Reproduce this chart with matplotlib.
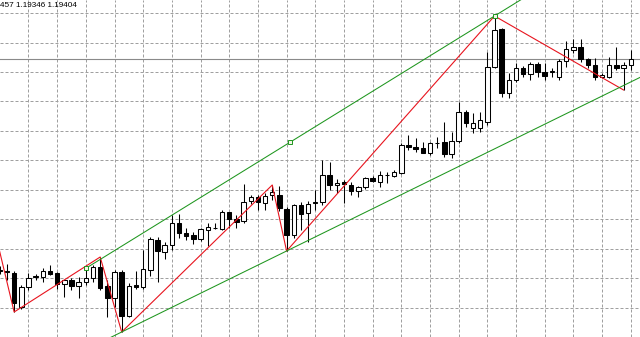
import numpy as np
import matplotlib.pyplot as plt

# EURUSD candles (open, high, low, close)
opens = [1.18349, 1.18344, 1.18334, 1.18164, 1.18264, 1.18314, 1.18314, 1.18344, 1.18334, 1.18279,
         1.18299, 1.18269, 1.18289, 1.18309, 1.18364, 1.18269, 1.18209, 1.18339, 1.18119, 1.18274,
         1.18264, 1.18349, 1.18499, 1.18439, 1.18474, 1.18584, 1.18534, 1.18524, 1.18504, 1.18549,
         1.18559, 1.18554, 1.18639, 1.18604, 1.18594, 1.18694, 1.18714, 1.18684, 1.18724, 1.18724,
         1.18654, 1.18524, 1.18674, 1.18634, 1.18684, 1.18689, 1.18824, 1.18774, 1.18789, 1.18774,
         1.18744, 1.18764, 1.18809, 1.18789, 1.18824, 1.18819, 1.18834, 1.18974, 1.18964, 1.18959,
         1.18934, 1.18984, 1.18989, 1.18929, 1.18994, 1.19139, 1.19059, 1.19059, 1.19089, 1.19364,
         1.19554, 1.19234, 1.19299, 1.19359, 1.19329, 1.19379, 1.19339, 1.19339, 1.19314, 1.19394,
         1.19449, 1.19464, 1.19404, 1.19374, 1.19314, 1.19314, 1.19374, 1.19359, 1.19374]
highs = [1.18369, 1.18379, 1.18344, 1.18274, 1.18334, 1.18329, 1.18359, 1.18374, 1.18339, 1.18299,
         1.18309, 1.18314, 1.18349, 1.18374, 1.18414, 1.18299, 1.18349, 1.18349, 1.18284, 1.18344,
         1.18449, 1.18514, 1.18514, 1.18489, 1.18624, 1.18629, 1.18559, 1.18539, 1.18559, 1.18584,
         1.18584, 1.18649, 1.18639, 1.18624, 1.18779, 1.18724, 1.18724, 1.18734, 1.18774, 1.18769,
         1.18664, 1.18679, 1.18689, 1.18694, 1.18749, 1.18899, 1.18889, 1.18804, 1.18799, 1.18789,
         1.18769, 1.18814, 1.18819, 1.18844, 1.18839, 1.18849, 1.18984, 1.19024, 1.19009, 1.18989,
         1.18989, 1.19014, 1.19089, 1.19039, 1.19189, 1.19149, 1.19134, 1.19139, 1.19439, 1.19619,
         1.19559, 1.19334, 1.19384, 1.19369, 1.19389, 1.19389, 1.19384, 1.19359, 1.19404, 1.19494,
         1.19504, 1.19504, 1.19409, 1.19409, 1.19334, 1.19414, 1.19464, 1.19389, 1.19449]
lows = [1.18329, 1.18299, 1.18139, 1.18154, 1.18249, 1.18299, 1.18289, 1.18324, 1.18254, 1.18214,
        1.18249, 1.18209, 1.18274, 1.18289, 1.18249, 1.18114, 1.18164, 1.18039, 1.18114, 1.18254,
        1.18254, 1.18319, 1.18289, 1.18404, 1.18449, 1.18509, 1.18499, 1.18479, 1.18494, 1.18469,
        1.18554, 1.18549, 1.18559, 1.18559, 1.18584, 1.18679, 1.18649, 1.18649, 1.18699, 1.18644,
        1.18444, 1.18509, 1.18549, 1.18489, 1.18649, 1.18674, 1.18749, 1.18734, 1.18684, 1.18724,
        1.18714, 1.18754, 1.18789, 1.18764, 1.18784, 1.18814, 1.18829, 1.18949, 1.18939, 1.18934,
        1.18924, 1.18959, 1.18914, 1.18909, 1.18984, 1.19064, 1.19034, 1.19039, 1.19074, 1.19359,
        1.19214, 1.19209, 1.19289, 1.19314, 1.19299, 1.19314, 1.19299, 1.19314, 1.19299, 1.19364,
        1.19434, 1.19389, 1.19359, 1.19299, 1.19309, 1.19309, 1.19349, 1.19249, 1.19349]
closes = [1.18344, 1.18339, 1.18184, 1.18264, 1.18309, 1.18319, 1.18344, 1.18329, 1.18279, 1.18299,
          1.18269, 1.18289, 1.18309, 1.18364, 1.18259, 1.18209, 1.18339, 1.18119, 1.18269, 1.18264,
          1.18354, 1.18504, 1.18444, 1.18474, 1.18584, 1.18534, 1.18519, 1.18504, 1.18554, 1.18564,
          1.18559, 1.18639, 1.18604, 1.18589, 1.18689, 1.18714, 1.18689, 1.18719, 1.18739, 1.18659,
          1.18524, 1.18674, 1.18629, 1.18679, 1.18689, 1.18824, 1.18774, 1.18784, 1.18779, 1.18744,
          1.18764, 1.18809, 1.18794, 1.18824, 1.18824, 1.18839, 1.18974, 1.18964, 1.18954, 1.18934,
          1.18984, 1.18984, 1.18929, 1.18994, 1.19139, 1.19084, 1.19084, 1.19099, 1.19364, 1.19549,
          1.19234, 1.19299, 1.19359, 1.19329, 1.19379, 1.19339, 1.19319, 1.19344, 1.19394, 1.19454,
          1.19464, 1.19404, 1.19374, 1.19314, 1.19324, 1.19374, 1.19359, 1.19374, 1.19404]

# ZigZag indicator vertices (bar index, price)
zigzag_bars = [-1, 2, 14, 17, 38, 40, 69, 87]
zigzag_prices = [1.18589, 1.18139, 1.18414, 1.18039, 1.18774, 1.18444, 1.19619, 1.19249]

# trendlines: two anchor points each
upper_bars = [12, 69]
upper_prices = [1.183575, 1.19619]
lower_bars = [17, 40]
lower_prices = [1.18039, 1.18444]

bid_price = 1.19404
header = "457 1.19346 1.19404"

fig = plt.figure(figsize=(6.4, 3.37), dpi=100)
ax = fig.add_axes([0, 0, 1, 1])
ax.set_xlim(0.028, 89.29)
ax.set_ylim(1.18014, 1.19699)
ax.axis('off')

grid_kw = dict(color='#a0a0a0', lw=0.72, dashes=(3, 2), zorder=0)
for b in range(4, 90, 4):
    ax.axvline(b, **grid_kw)
for p in np.arange(1.19634, 1.1801, -0.001475):
    ax.axhline(p, **grid_kw)

ax.axhline(bid_price, color='#8a8a8a', lw=0.8, zorder=1)

bars = np.arange(len(opens))
o = np.array(opens)
c = np.array(closes)
ax.vlines(bars, lows, highs, color='black', lw=0.75, zorder=2)
bull = c >= o
body_w = 0.62
ax.bar(bars[bull], np.abs(c - o)[bull], bottom=np.minimum(o, c)[bull], width=body_w,
       color='white', edgecolor='black', lw=0.75, zorder=3)
ax.bar(bars[~bull], np.abs(c - o)[~bull], bottom=np.minimum(o, c)[~bull], width=body_w,
       color='black', edgecolor='black', lw=0.75, zorder=3)

ax.plot(zigzag_bars, zigzag_prices, color='#e8141e', lw=0.8, zorder=4)


def ray(bx, py, x_end=92):
    slope = (py[1] - py[0]) / (bx[1] - bx[0])
    return [bx[0], x_end], [py[0], py[0] + slope * (x_end - bx[0])]


green = '#1e961e'
ux, uy = ray(upper_bars, upper_prices)
ax.plot(ux, uy, color=green, lw=0.75, zorder=4)
lx, ly = ray(lower_bars, lower_prices)
lx[0] = 10
ly[0] = lower_prices[0] - (lower_prices[1] - lower_prices[0]) / (lower_bars[1] - lower_bars[0]) * 7
ax.plot(lx, ly, color=green, lw=0.75, zorder=4)

# handles of the selected trendline
mid_b = (upper_bars[0] + upper_bars[1]) / 2
mid_p = (upper_prices[0] + upper_prices[1]) / 2
ax.plot([upper_bars[0], mid_b, upper_bars[1]], [upper_prices[0], mid_p, upper_prices[1]],
        ls='none', marker='s', ms=3.2, mfc='#f4f4e8', mec=green, mew=0.7, zorder=5)

ax.text(0.0, 0.993, header, transform=ax.transAxes, ha='left', va='top',
        fontsize=5.9, family='Liberation Sans', color='black')

fig.savefig('out.png', dpi=100)
